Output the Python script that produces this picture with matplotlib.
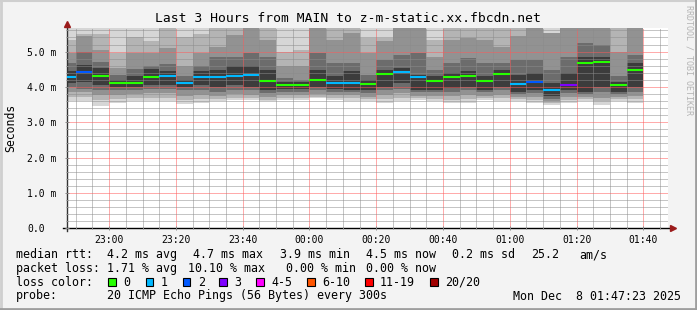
import matplotlib
matplotlib.use("Agg")
import matplotlib.pyplot as plt
import matplotlib.dates as mdates
from matplotlib.patches import Rectangle
from matplotlib.lines import Line2D
from matplotlib.ticker import MultipleLocator, FixedLocator
import pandas as pd

W, H = 697, 310
plt.rcParams['font.family'] = 'DejaVu Sans Mono'

# 5 minute rounds, values in ms (20 pings each)
median_ms = [4.27, 4.42, 4.31, 4.12, 4.12, 4.29, 4.31, 4.12, 4.29, 4.29, 4.31, 4.35, 4.18, 4.06, 4.06, 4.20, 4.10, 4.12,
             4.08, 4.38, 4.42, 4.27, 4.18, 4.29, 4.31, 4.18, 4.38, 4.08, 4.15, 3.90, 4.06, 4.69, 4.72, 4.06, 4.48]
lost = [1, 2, 0, 0, 0, 0, 1, 1, 1, 1, 1, 1, 0, 0, 0, 0, 1, 1, 0, 0, 1, 1, 0, 0, 0, 0, 0, 1, 2, 1, 3, 0, 0, 0, 0]

# smoke bands, outer -> inner
lo0 = [3.59, 3.59, 3.47, 3.55, 3.60, 3.60, 3.60, 3.52, 3.55, 3.59, 3.63, 3.63, 3.59, 3.63, 3.63, 3.68, 3.63, 3.60,
       3.59, 3.55, 3.59, 3.63, 3.59, 3.54, 3.54, 3.63, 3.60, 3.59, 3.54, 3.49, 3.54, 3.59, 3.49, 3.59, 3.54]
lo1 = [3.72, 3.72, 3.62, 3.65, 3.70, 3.70, 3.70, 3.62, 3.65, 3.65, 3.68, 3.68, 3.64, 3.68, 3.70, 3.72, 3.68, 3.68,
       3.65, 3.65, 3.70, 3.68, 3.66, 3.62, 3.65, 3.68, 3.68, 3.65, 3.62, 3.55, 3.62, 3.65, 3.60, 3.65, 3.65]
lo2 = [3.85, 3.85, 3.78, 3.78, 3.80, 3.82, 3.82, 3.75, 3.78, 3.75, 3.80, 3.78, 3.72, 3.78, 3.78, 3.80, 3.78, 3.78,
       3.72, 3.78, 3.82, 3.75, 3.75, 3.75, 3.78, 3.75, 3.78, 3.72, 3.72, 3.60, 3.72, 3.72, 3.70, 3.72, 3.75]
lo3 = [4.00, 3.95, 3.92, 3.90, 3.90, 3.95, 3.95, 3.90, 3.92, 3.85, 3.92, 3.90, 3.82, 3.87, 3.87, 3.90, 3.87, 3.85,
       3.82, 3.90, 3.95, 3.85, 3.85, 3.87, 3.90, 3.85, 3.90, 3.80, 3.82, 3.66, 3.82, 3.80, 3.87, 3.80, 3.87]
lo4 = [4.11, 4.15, 4.05, 4.00, 4.00, 4.05, 4.05, 4.00, 4.05, 4.01, 4.06, 4.01, 3.92, 3.95, 3.95, 4.01, 3.95, 3.92,
       3.92, 4.01, 4.11, 3.92, 3.92, 3.96, 4.01, 3.92, 4.01, 3.87, 3.92, 3.73, 3.92, 3.87, 4.01, 3.87, 4.01]
hi4 = [4.44, 4.62, 4.55, 4.20, 4.30, 4.50, 4.45, 4.20, 4.45, 4.49, 4.58, 4.58, 4.49, 4.15, 4.15, 4.49, 4.30, 4.45,
       4.20, 4.49, 4.53, 4.34, 4.30, 4.39, 4.44, 4.30, 4.49, 4.34, 4.39, 4.11, 4.39, 4.86, 4.86, 4.15, 4.67]
hi3 = [4.67, 5.00, 4.70, 4.35, 4.50, 4.60, 4.65, 4.30, 4.60, 4.86, 4.86, 4.96, 4.86, 4.25, 4.20, 4.96, 4.67, 4.67,
       4.35, 4.77, 4.91, 4.96, 4.49, 4.67, 4.81, 4.67, 4.67, 4.77, 4.77, 4.49, 4.86, 5.24, 5.19, 4.30, 4.91]
hi2 = [4.96, 5.43, 5.05, 4.55, 4.96, 4.96, 5.10, 4.58, 4.96, 5.14, 5.48, 5.66, 5.33, 4.58, 4.58, 5.66, 5.33, 5.52,
       4.96, 5.30, 5.66, 5.66, 4.86, 5.33, 5.38, 5.33, 5.14, 5.43, 5.66, 5.52, 5.66, 5.66, 5.66, 5.00, 5.66]
hi1 = [5.33, 5.50, 5.50, 4.96, 5.40, 5.30, 5.66, 5.40, 5.50, 5.66, 5.66, 5.66, 5.66, 5.00, 5.05, 5.66, 5.66, 5.66,
       5.38, 5.38, 5.66, 5.66, 5.33, 5.66, 5.66, 5.66, 5.66, 5.66, 5.66, 5.52, 5.66, 5.66, 5.66, 5.66, 5.66]
hi0 = [5.66] * 35

smoke_cols = ['#d6d6d6', '#b4b4b4', '#929292', '#6c6c6c', '#3c3c3c']
loss_cols = {0: '#26ff00', 1: '#00b8ff', 2: '#0059ff', 3: '#7e00ff'}

legend_keys = ['0', '1', '2', '3', '4-5', '6-10', '11-19', '20/20']
legend_cols = ['#26ff00', '#00b8ff', '#0059ff', '#7e00ff', '#ff00ff', '#ff5500', '#ff0000', '#a10000']

t_start = pd.Timestamp("2025-12-07 22:47:23")
t_end = pd.Timestamp("2025-12-08 01:47:23")
slots = pd.date_range("2025-12-07 22:45", periods=len(median_ms), freq="5min")
xs = mdates.date2num(slots.to_pydatetime())
step = 5 / 1440.0


def fx(x):
    return x / W


def fy(y):
    return 1 - y / H


fig = plt.figure(figsize=(W / 100, H / 100), dpi=100, facecolor='#f3f3f3')
ax = fig.add_axes([fx(67), fy(228.3), 601 / W, 200 / H])
ax.set_facecolor('white')

bands = [(lo0, hi0), (lo1, hi1), (lo2, hi2), (lo3, hi3), (lo4, hi4)]
for (lo, hi), c in zip(bands, smoke_cols):
    ax.bar(xs, [h - l for l, h in zip(lo, hi)], width=step, bottom=lo, align='edge',
           color=c, linewidth=0, zorder=1)

for x, m, l in zip(xs, median_ms, lost):
    ax.hlines(m, x, x + step, colors=loss_cols[l], linewidth=1.5, zorder=3)

ax.set_xlim(mdates.date2num(t_start), mdates.date2num(t_end))
ax.set_ylim(0, 5.66)

ax.xaxis.set_major_locator(mdates.MinuteLocator(byminute=[0, 20, 40]))
ax.xaxis.set_minor_locator(mdates.MinuteLocator(byminute=range(0, 60, 5)))
ax.xaxis.set_major_formatter(mdates.DateFormatter('%H:%M'))
ax.yaxis.set_major_locator(FixedLocator([0, 1, 2, 3, 4, 5]))
ax.yaxis.set_minor_locator(MultipleLocator(0.2))
ax.set_yticklabels(['0.0', '1.0 m', '2.0 m', '3.0 m', '4.0 m', '5.0 m'])
for lab in ax.get_yticklabels():
    lab.set_horizontalalignment('left')

ax.set_axisbelow(False)
ax.grid(which='major', color=(1, 0.35, 0.35, 0.4), linestyle=(0, (1, 1)), linewidth=0.72)
ax.grid(which='minor', color=(0.55, 0.55, 0.55, 0.32), linestyle=(0, (1, 1)), linewidth=0.72)

ax.tick_params(which='both', direction='inout', color='#888888', width=0.7, labelsize=7)
ax.tick_params(which='major', length=3)
ax.tick_params(which='minor', length=2)
ax.tick_params(axis='x', which='major', pad=3)
ax.tick_params(axis='y', which='major', pad=27)

for s in ax.spines.values():
    s.set_visible(False)

# axes with arrows
ax.add_line(Line2D([-0.007, 1.006], [0, 0], transform=ax.transAxes, color='black', lw=1, clip_on=False))
ax.add_line(Line2D([0, 0], [-0.012, 1.02], transform=ax.transAxes, color='#333333', lw=1, clip_on=False))
ax.plot([1.008], [0], transform=ax.transAxes, marker='>', color='#9b1b1b', markersize=4.5, clip_on=False)
ax.plot([0], [1.02], transform=ax.transAxes, marker='^', color='#9b1b1b', markersize=4.5, clip_on=False)

fig.text(fx(347.5), fy(19), 'Last 3 Hours from MAIN to z-m-static.xx.fbcdn.net',
         ha='center', va='center', fontsize=9.4)
fig.text(fx(10.5), fy(128), 'Seconds', rotation=90, ha='center', va='center', fontsize=8.3)
fig.text(fx(688.5), fy(5), 'RRDTOOL / TOBI OETIKER', rotation=270, ha='center', va='top',
         fontsize=6, color='#b4b4b4')

fs = 8.35
row1 = [(16, 'median rtt:'), (107.3, '4.2 ms avg'), (193.5, '4.7 ms max'), (280, '3.9 ms min'),
        (365.5, '4.5 ms now'), (451.7, '0.2 ms sd'), (530.7, '25.2'), (579.3, 'am/s')]
row2 = [(16, 'packet loss:'), (107.3, '1.71 % avg'), (187.7, '10.10 % max'), (286.5, '0.00 % min'),
        (365.5, '0.00 % now')]
row4 = [(16, 'probe:'), (107.3, '20 ICMP Echo Pings (56 Bytes) every 300s'), (512.7, 'Mon Dec  8 01:47:23 2025')]
for y, row in [(254.7, row1), (268.3, row2), (296, row4)]:
    for x, t in row:
        fig.text(fx(x), fy(y), t, ha='left', va='center', fontsize=fs)

fig.text(fx(16), fy(282.3), 'loss color:', ha='left', va='center', fontsize=fs)
box_x = [108.3, 145.7, 182.7, 219.3, 256, 307.3, 365, 430]
for bx, k, c in zip(box_x, legend_keys, legend_cols):
    fig.add_artist(Rectangle((fx(bx), fy(286.3)), 7.7 / W, 8 / H, transform=fig.transFigure,
                             facecolor=c, edgecolor='black', linewidth=0.8))
    fig.text(fx(bx + 15), fy(282.3), k, ha='left', va='center', fontsize=fs)

# frame
fig.add_artist(Line2D([0, 1], [fy(0.5), fy(0.5)], transform=fig.transFigure, color='#cfcfcf', lw=1.5))
fig.add_artist(Line2D([fx(1), fx(1)], [0, 1], transform=fig.transFigure, color='#cfcfcf', lw=2))
fig.add_artist(Line2D([fx(695.5), fx(695.5)], [0, 1], transform=fig.transFigure, color='#9e9e9e', lw=2))
fig.add_artist(Line2D([0, 1], [fy(308.5), fy(308.5)], transform=fig.transFigure, color='#9e9e9e', lw=2))

fig.savefig('out.png', dpi=100, facecolor=fig.get_facecolor())
